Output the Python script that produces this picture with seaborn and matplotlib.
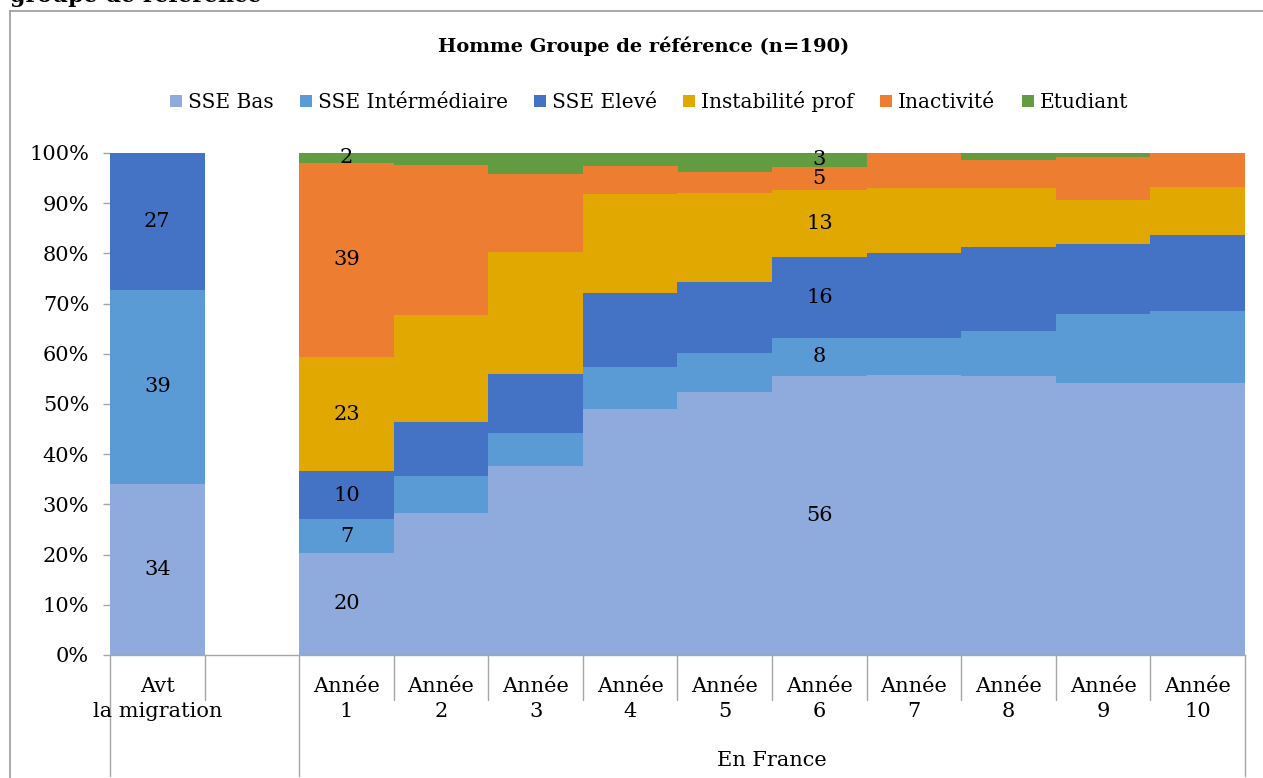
import matplotlib
matplotlib.use("Agg")
import matplotlib.pyplot as plt
import seaborn as sns
import pandas as pd
import numpy as np
from matplotlib.lines import Line2D
import matplotlib.transforms as mtransforms

# ---------------- data ----------------
categories = ["avt", "gap", "y1", "y2", "y3", "y4", "y5", "y6", "y7", "y8", "y9", "y10"]
cat_labels = ["Avt\nla migration", "", "Année\n1", "Année\n2", "Année\n3", "Année\n4",
              "Année\n5", "Année\n6", "Année\n7", "Année\n8", "Année\n9", "Année\n10"]
group_labels = ["", "En France"]
group_first = [0, 2]
group_last = [1, 11]

series = ["SSE Bas", "SSE Intérmédiaire", "SSE Elevé", "Instabilité prof", "Inactivité", "Etudiant"]
colors = ["#8FAADC", "#5B9BD5", "#4472C4", "#E0A800", "#ED7D31", "#629B40"]

sse_bas = [34.1, np.nan, 20.4, 28.3, 37.7, 49.1, 52.3, 55.6, 55.8, 55.6, 54.1, 54.2]
sse_int = [38.6, np.nan, 6.6, 7.4, 6.5, 8.3, 7.9, 7.6, 7.4, 8.9, 13.8, 14.3]
sse_elev = [27.3, np.nan, 9.6, 10.8, 11.8, 14.8, 14.2, 16.1, 16.9, 16.7, 14.0, 15.2]
instab = [0.0, np.nan, 22.8, 21.2, 24.2, 19.6, 17.7, 13.4, 12.9, 11.9, 8.7, 9.6]
inact = [0.0, np.nan, 38.7, 30.0, 15.6, 5.7, 4.2, 4.6, 7.0, 5.5, 8.7, 6.7]
etud = [0.0, np.nan, 1.9, 2.3, 4.2, 2.5, 3.7, 2.7, 0.0, 1.4, 0.7, 0.0]

labeled_categories = ["avt", "y1", "y6"]
title = "Homme Groupe de référence (n=190)"
top_text = "groupe de référence"

# ---------------- style ----------------
sns.set_style("white")
plt.rcParams["font.family"] = ["DejaVu Serif"]
plt.rcParams["text.color"] = "black"
plt.rcParams["ytick.color"] = "black"
plt.rcParams["xtick.color"] = "black"
plt.rcParams["axes.labelcolor"] = "black"

W, H = 1263, 778
fig = plt.figure(figsize=(W / 100, H / 100), dpi=100)
ax_l, ax_r, ax_b, ax_t = 110, 1245, 655, 153
ax = fig.add_axes([ax_l / W, (H - ax_b) / H, (ax_r - ax_l) / W, (ax_b - ax_t) / H])

df = pd.DataFrame({"cat": categories, series[0]: sse_bas, series[1]: sse_int,
                   series[2]: sse_elev, series[3]: instab, series[4]: inact,
                   series[5]: etud})
vals = df[series].fillna(0)
cum = vals.cumsum(axis=1)

for i in reversed(range(len(series))):
    s = series[i]
    mask = vals[s] > 0
    sub = pd.DataFrame({"cat": df.loc[mask, "cat"], "cum": cum.loc[mask, s]})
    sns.barplot(data=sub, x="cat", y="cum", order=categories, color=colors[i],
                width=1.0, saturation=1, errorbar=None, linewidth=0, ax=ax)

ax.set_xlim(-0.5, len(categories) - 0.5)
ax.set_ylim(0, 100)
ax.set_xlabel("")
ax.set_ylabel("")
ax.set_xticks([])
ax.set_yticks(np.arange(0, 101, 10))
ax.set_yticklabels([f"{v}%" for v in range(0, 101, 10)])
grey = "#A6A6A6"
ax.tick_params(axis="y", left=True, length=5, width=1, color=grey, labelcolor="black",
               labelsize=15, pad=10)
for sp in ["top", "right", "left"]:
    ax.spines[sp].set_visible(False)
ax.spines["bottom"].set_color(grey)
ax.spines["bottom"].set_linewidth(1)

# data labels
for ci, c in enumerate(categories):
    if c not in labeled_categories:
        continue
    base = 0.0
    for s in series:
        v = vals.loc[ci, s]
        if v > 0:
            ax.text(ci, base + v / 2, f"{int(round(v))}", ha="center", va="center",
                    fontsize=15, color="black")
        base += v

# category axis (multi-level)
trans = mtransforms.blended_transform_factory(ax.transData, ax.transAxes)
ph = ax_b - ax_t
short_y = -(700 - ax_b) / ph
long_y = -(776 - ax_b) / ph
edges_long = set()
for gf, gl in zip(group_first, group_last):
    edges_long.add(gf - 0.5)
    edges_long.add(gl + 0.5)
for k in range(len(categories) + 1):
    xe = k - 0.5
    yb = long_y if xe in edges_long else short_y
    ax.plot([xe, xe], [0, yb], transform=trans, color=grey, lw=1, clip_on=False)

for ci, lab in enumerate(cat_labels):
    if lab:
        ax.text(ci, -(677 - ax_b) / ph, lab, transform=trans, ha="center", va="top",
                fontsize=15, linespacing=1.38)
for gf, gl, glab in zip(group_first, group_last, group_labels):
    if glab:
        ax.text((gf + gl) / 2, -(760 - ax_b) / ph, glab, transform=trans,
                ha="center", va="center", fontsize=15)

# title and legend
fig.text(644 / W, 1 - 46 / H, title, ha="center", va="center", fontsize=14,
         fontweight="bold")
handles = [Line2D([], [], marker="s", linestyle="", markersize=9,
                  markerfacecolor=c, markeredgewidth=0) for c in colors]
fig.legend(handles, series, loc="center", bbox_to_anchor=(648 / W, 1 - 102 / H),
           ncol=6, frameon=False, fontsize=14.5, handletextpad=0.2,
           columnspacing=1.2, handlelength=0.8)

# cut-off heading and chart border (the heading is cropped in the source image too)
fig.text(10 / W, 1 - 2 / H, top_text, ha="left", va="baseline", fontsize=16,
         fontweight="bold")
fig.add_artist(Line2D([10 / W, 10 / W], [0, 1 - 11 / H], transform=fig.transFigure,
                      color="#9A9A9A", lw=1.2))
fig.add_artist(Line2D([10 / W, 1], [1 - 11 / H, 1 - 11 / H], transform=fig.transFigure,
                      color="#9A9A9A", lw=1.2))

fig.savefig("out.png", dpi=100)
